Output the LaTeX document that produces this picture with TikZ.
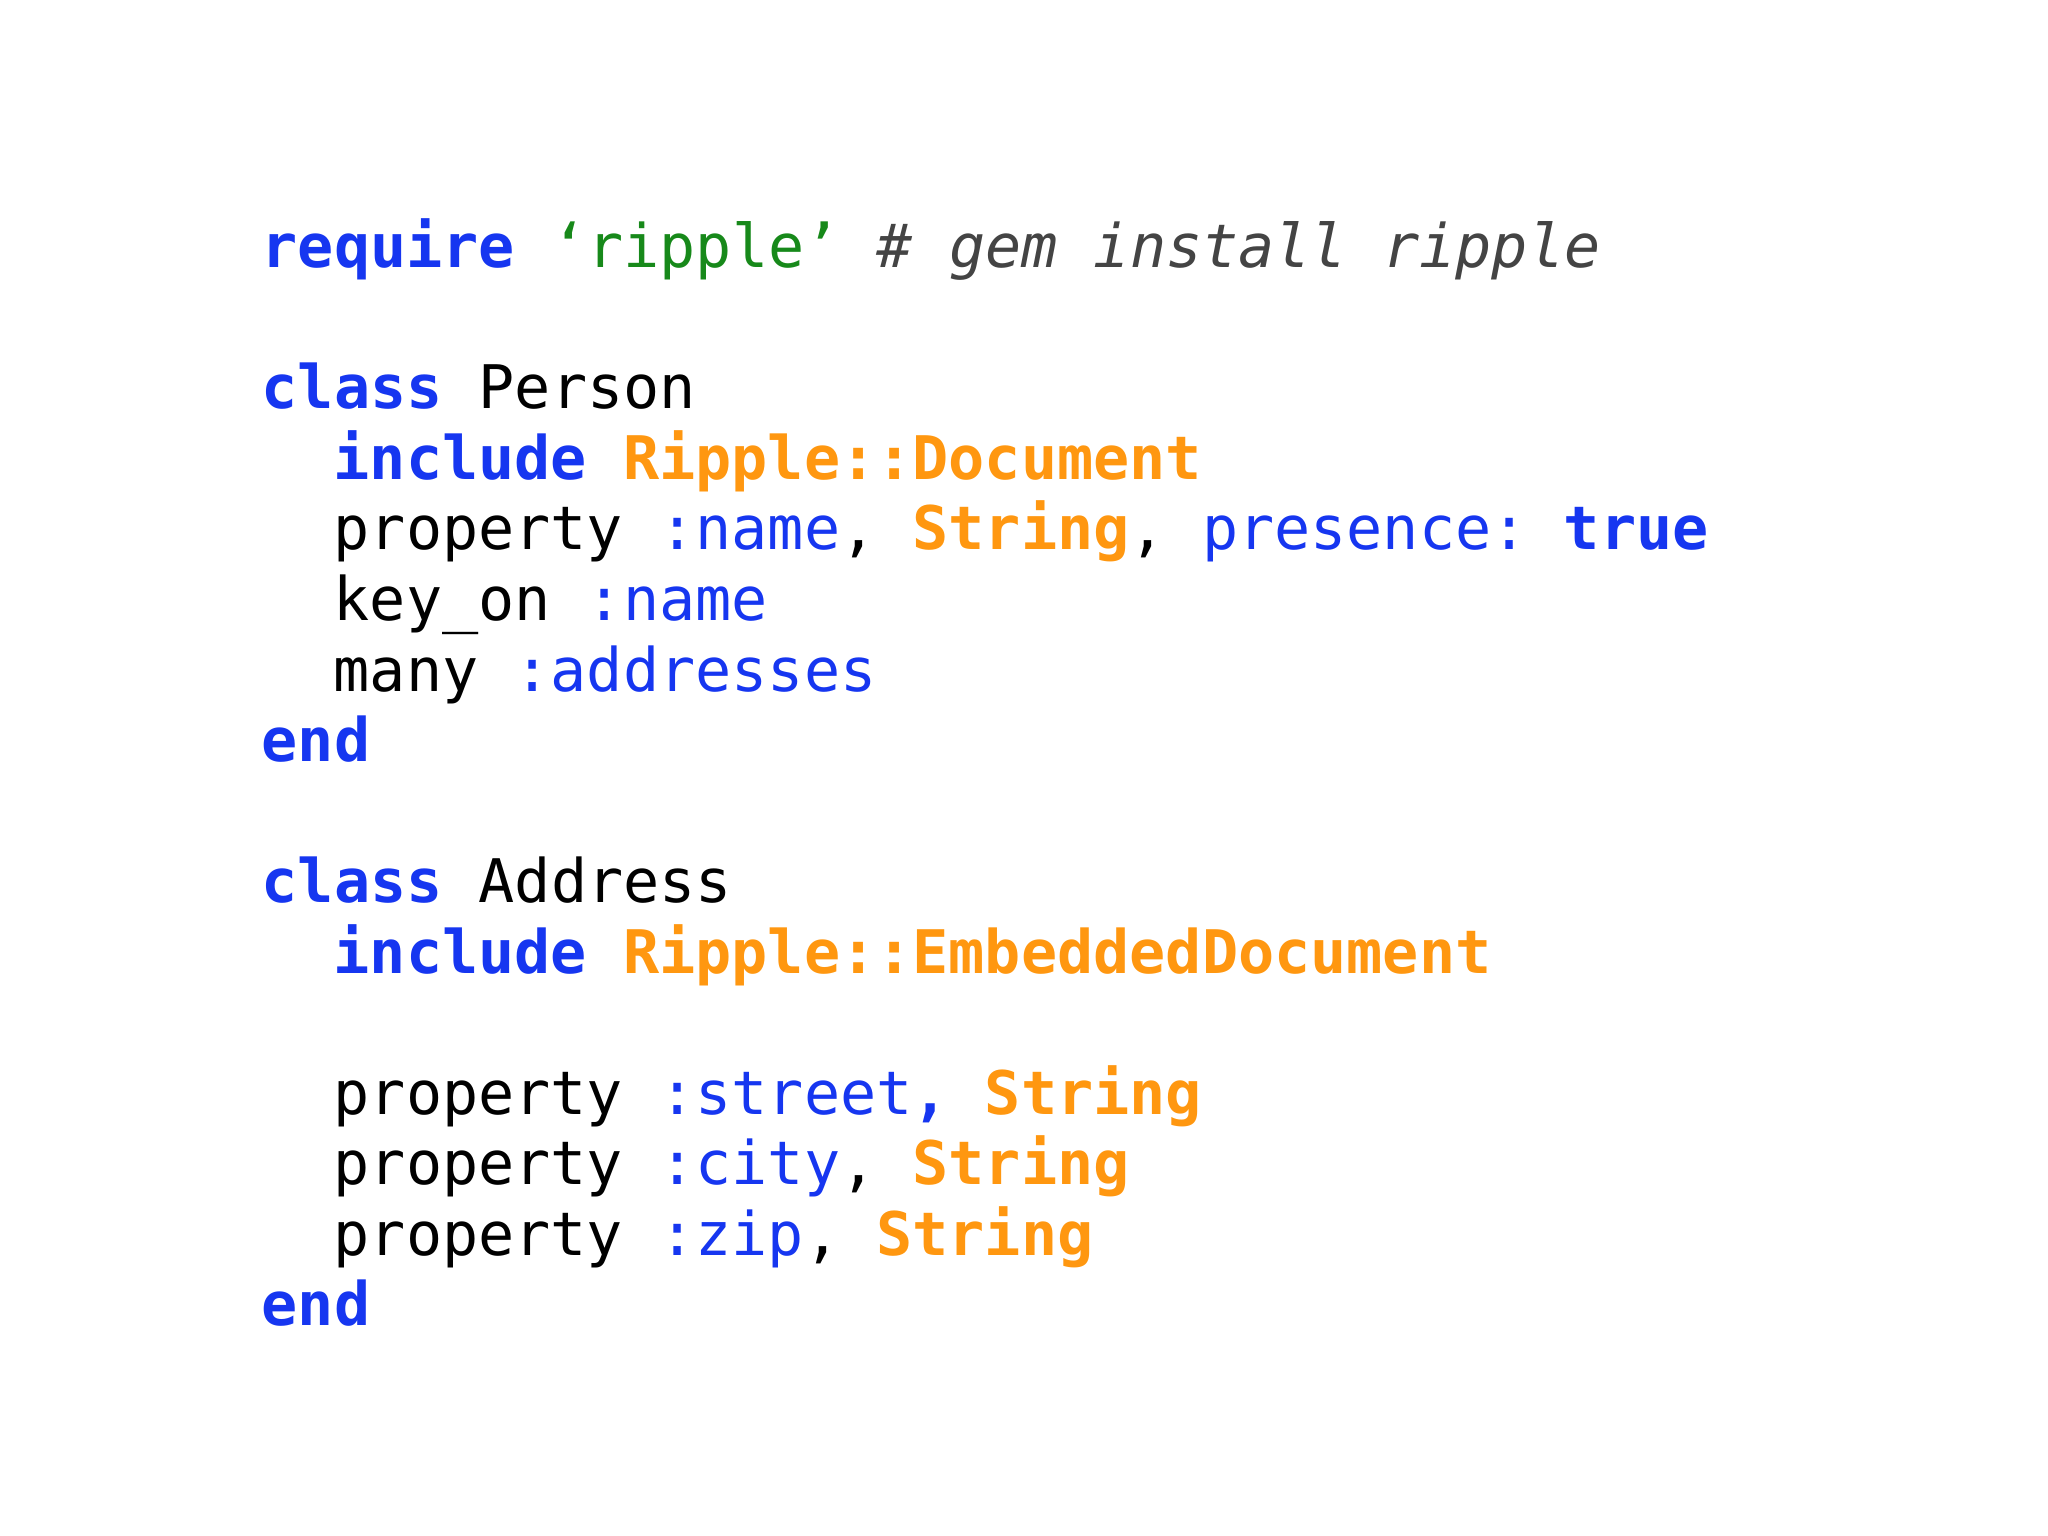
\documentclass[tikz,border=0pt]{standalone}
\usepackage{fontspec}
\setmonofont{DejaVu Sans Mono}
\definecolor{kw}{HTML}{1636F0}
\definecolor{cn}{HTML}{FF9710}
\definecolor{st}{HTML}{17891A}
\definecolor{cm}{HTML}{444444}
\newcommand{\K}[1]{\textcolor{kw}{\bfseries #1}}
\newcommand{\Sy}[1]{\textcolor{kw}{#1}}
\newcommand{\C}[1]{\textcolor{cn}{\bfseries #1}}
\tikzset{codeline/.style={anchor=base west,inner sep=0pt,font=\ttfamily\fontsize{17.1}{20}\selectfont}}
\begin{document}
\begin{tikzpicture}
\useasboundingbox (0,0) rectangle (20.48,-15.36);
\def\L{2.61}
\def\I{3.33}
\newcommand{\Y}[1]{-2.68-0.705*(#1-1)}
\node[codeline] (l1) at (\L,{\Y{1}}) {\K{require} \textcolor{st}{‘ripple’} \textcolor{cm}{\itshape\# gem install ripple}};
\node[codeline] (l3) at (\L,{\Y{3}}) {\K{class} Person};
\node[codeline] (l4) at (\I,{\Y{4}}) {\K{include} \C{Ripple::Document}};
\node[codeline] (l5) at (\I,{\Y{5}}) {property \Sy{:name}, \C{String}, \Sy{presence:} \K{true}};
\node[codeline] (l6) at (\I,{\Y{6}}) {key\_on \Sy{:name}};
\node[codeline] (l7) at (\I,{\Y{7}}) {many \Sy{:addresses}};
\node[codeline] (l8) at (\L,{\Y{8}}) {\K{end}};
\node[codeline] (l10) at (\L,{\Y{10}}) {\K{class} Address};
\node[codeline] (l11) at (\I,{\Y{11}}) {\K{include} \C{Ripple::EmbeddedDocument}};
\node[codeline] (l13) at (\I,{\Y{13}}) {property \Sy{:street}\K{,} \C{String}};
\node[codeline] (l14) at (\I,{\Y{14}}) {property \Sy{:city}, \C{String}};
\node[codeline] (l15) at (\I,{\Y{15}}) {property \Sy{:zip}, \C{String}};
\node[codeline] (l16) at (\L,{\Y{16}}) {\K{end}};
\end{tikzpicture}
\end{document}
